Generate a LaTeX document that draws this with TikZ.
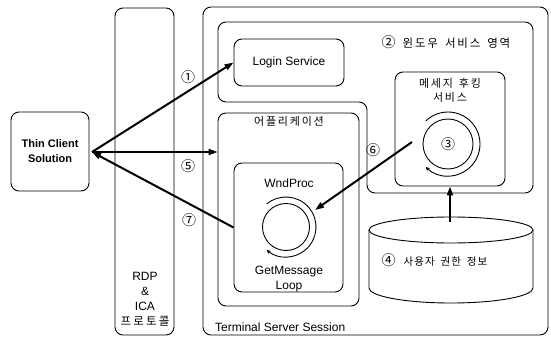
\documentclass[tikz,border=0pt]{standalone}
\usepackage{fontspec}
\setmainfont{Liberation Sans}
\newfontfamily\krn{Noto Sans CJK KR}
\usetikzlibrary{arrows.meta,calc}

% extra tracking between Hangul syllables
\XeTeXinterchartokenstate=1
\newXeTeXintercharclass\hangulclass
\newcount\hcode
\hcode="AC00
\loop
  \XeTeXcharclass\hcode=\hangulclass
  \advance\hcode by 1
\ifnum\hcode<"D7A4 \repeat
\newlength\hgap
\setlength\hgap{1.8pt}
\XeTeXinterchartoks\hangulclass\hangulclass={\hskip\hgap}
\newcommand\krgap[1][6pt]{\hspace*{#1}}

\begin{document}
\begin{tikzpicture}[x=1pt,y=-1pt,
  box/.style={draw, line width=0.9pt, rounded corners=8pt, inner sep=0pt},
  flow/.style={line width=2pt, -{Triangle[length=9pt,width=6pt]}},
  ring/.style={line width=0.9pt, -{Stealth[length=4pt,width=4pt]}},
  num/.style={font=\krn\fontsize{14}{14}\selectfont, inner sep=0pt},
  lat/.style={font=\fontsize{12}{15}\selectfont, inner sep=0pt, align=center},
  kor/.style={font=\krn\fontsize{11}{14}\selectfont, inner sep=0pt, align=center}]
\useasboundingbox (0,0) rectangle (551,337);

% client and protocol column
\node[box, minimum width=78pt, minimum height=79pt, align=center,
      font=\bfseries\fontsize{11}{15}\selectfont] (tc) at (50,151.5) {Thin Client\\Solution};
\node[box, minimum width=59pt, minimum height=327pt] (rdp) at (144.5,171.5) {};
\node[lat] (rdptext) at (145,299.5) {RDP\\\&\\ICA\\{\krn\fontsize{11.5}{15}\selectfont\setlength\hgap{2.2pt}프로토콜}};

% terminal server session
\node[box, minimum width=345pt, minimum height=328pt] (tss) at (375.5,171) {};
\node[lat, anchor=west] (tsslabel) at (215,327) {Terminal Server Session};

% window service area (L-shaped region)
\draw[line width=0.9pt, rounded corners=8pt]
  (218,22) -- (533,22) -- (533,193) -- (367,193) -- (367,102) -- (218,102) -- cycle;
\node[inner sep=0pt, font=\krn\fontsize{11.5}{12}\selectfont] (svclabel) at (446,42)
  {{\fontsize{14}{14}\selectfont ②}\krgap[7pt]윈도우\krgap[7pt]서비스\krgap[7pt]영역};

\node[box, minimum width=110pt, minimum height=47pt, lat] (login) at (289,62.5) {Login Service};

% application
\node[box, minimum width=141pt, minimum height=193pt] (app) at (288.5,209.5) {};
\node[kor] (applabel) at (289,121) {어플리케이션};
\node[box, minimum width=109pt, minimum height=129pt] (wp) at (288.5,227.5) {};
\node[lat] (wplabel) at (289,183) {WndProc};
\node[lat] (gmlabel) at (289,279) {GetMessage\\Loop};
\node[circle, draw, line width=0.9pt, minimum size=47pt, inner sep=0pt] (wpc) at (286,227) {};
\draw[ring] ($(wpc)+(-130:30)$) arc[start angle=-130, end angle=130, radius=30];

% message hooking service
\node[box, minimum width=110pt, minimum height=114pt] (hook) at (450,129) {};
\node[kor] (hooklabel) at (450,90.5) {메세지\krgap 후킹\\서비스};
\node[circle, draw, line width=0.9pt, minimum size=50pt, inner sep=0pt, num] (hkc) at (448,144) {③};
\draw[ring] ($(hkc)+(-134:32)$) arc[start angle=-134, end angle=134, radius=32];

% user permission store
\coordinate (dbc) at (451,230);
\draw[line width=0.9pt] (369,230) -- (369,288) arc[start angle=180, end angle=0, x radius=82, y radius=15]
  -- (533,230);
\draw[line width=0.9pt] (dbc) ellipse[x radius=82, y radius=13];
\node[inner sep=0pt, font=\krn\fontsize{10.5}{12}\selectfont\setlength\hgap{1pt}] (dblabel) at (434.5,260)
  {{\fontsize{14}{14}\selectfont ④}\krgap[8pt]사용자\krgap 권한\krgap 정보};
\coordinate (dbtop) at (450,222);

% connectors
\coordinate (hub) at (92,152);
\draw[flow] (hub) -- (login.west);
\draw[flow] (hub) -- (hub -| app.west);
\draw[flow] (wp.west) -- (hub);
\coordinate (hooktail) at ($(hkc)+(-36,-2)$);
\coordinate (wpring) at ($(wpc)+(29,-17)$);
\draw[flow] (hooktail) -- (wpring);
\draw[flow] (dbtop) -- (hook.south);

% step numbers
\node[num] (n1) at (188,77) {①};
\node[num] (n5) at (188,166) {⑤};
\node[num] (n7) at (189,220) {⑦};
\node[num] (n6) at (373,150) {⑥};
\end{tikzpicture}
\end{document}
